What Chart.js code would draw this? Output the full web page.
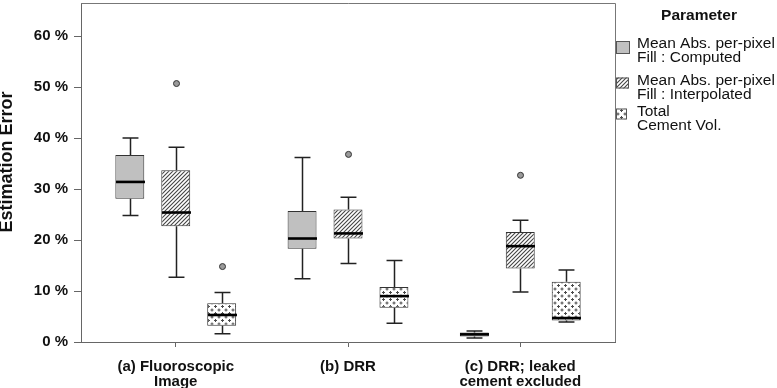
<!DOCTYPE html>
<html><head><meta charset="utf-8">
<script src="https://cdn.jsdelivr.net/npm/chart.js@4"></script>
<style>html,body{margin:0;padding:0;background:#fff;overflow:hidden}</style>
</head><body>
<canvas id="c" width="777" height="388"></canvas>
<script>
const categories = [["(a) Fluoroscopic", "Image"], ["(b) DRR"], ["(c) DRR; leaked", "cement excluded"]];
const seriesNames = [["Mean Abs. per-pixel", "Fill : Computed"], ["Mean Abs. per-pixel", "Fill : Interpolated"], ["Total", "Cement Vol."]];
const yTickValues = [0, 10, 20, 30, 40, 50, 60];
const legendTitle = "Parameter";
const yTitle = "Estimation Error";

const computedMin = [24.8, 12.4, 0.8];
const computedQ1 = [28.1, 18.3, 1.1];
const computedMedian = [31.4, 20.3, 1.5];
const computedQ3 = [36.7, 25.7, 1.85];
const computedMax = [40.0, 36.2, 2.15];
const computedOutliers = [[], [], []];

const interpMin = [12.7, 15.4, 9.8];
const interpQ1 = [22.7, 20.3, 14.4];
const interpMedian = [25.4, 21.3, 18.8];
const interpQ3 = [33.7, 26.0, 21.6];
const interpMax = [38.2, 28.4, 23.9];
const interpOutliers = [[50.7], [36.8], [32.7]];

const volMin = [1.6, 3.7, 3.9];
const volQ1 = [3.2, 6.7, 4.2];
const volMedian = [5.3, 9.0, 4.7];
const volQ3 = [7.6, 10.8, 11.8];
const volMax = [9.7, 16.0, 14.1];
const volOutliers = [[14.8], [], []];

const stats = [
  {min: computedMin, q1: computedQ1, med: computedMedian, q3: computedQ3, max: computedMax, out: computedOutliers},
  {min: interpMin, q1: interpQ1, med: interpMedian, q3: interpQ3, max: interpMax, out: interpOutliers},
  {min: volMin, q1: volQ1, med: volMedian, q3: volQ3, max: volMax, out: volOutliers}
];

// fill patterns
function hatchPattern() {
  const t = document.createElement('canvas'); t.width = 4; t.height = 4;
  const g = t.getContext('2d');
  g.fillStyle = '#fff'; g.fillRect(0, 0, 4, 4);
  g.strokeStyle = '#444'; g.lineWidth = 1.1;
  g.beginPath();
  g.moveTo(-1, 5); g.lineTo(5, -1);
  g.moveTo(-1, 1); g.lineTo(1, -1);
  g.moveTo(3, 5); g.lineTo(5, 3);
  g.stroke();
  return g.createPattern(t, 'repeat');
}
function plusPattern() {
  const t = document.createElement('canvas'); t.width = 7; t.height = 7;
  const g = t.getContext('2d');
  g.fillStyle = '#fff'; g.fillRect(0, 0, 7, 7);
  g.fillStyle = '#4a4a4a';
  [[2, 2], [5.5, 5.5]].forEach(([cx, cy]) => {
    g.fillRect(cx - 1.5, cy - 0.5, 3, 1);
    g.fillRect(cx - 0.5, cy - 1.5, 1, 3);
  });
  return g.createPattern(t, 'repeat');
}
const fills = ['#c0c0c0', hatchPattern(), plusPattern()];

const FONT = "'Liberation Sans', Arial, sans-serif";

const boxPlugin = {
  id: 'boxextras',
  afterDatasetsDraw(chart) {
    const ctx = chart.ctx, ys = chart.scales.y;
    ctx.save();
    chart.data.datasets.forEach((ds, di) => {
      const meta = chart.getDatasetMeta(di);
      const st = stats[di];
      meta.data.forEach((bar, i) => {
        const x = Math.round(bar.x) + 0.5, w = bar.width;
        const pMin = ys.getPixelForValue(st.min[i]);
        const pMax = ys.getPixelForValue(st.max[i]);
        const pQ1 = ys.getPixelForValue(st.q1[i]);
        const pQ3 = ys.getPixelForValue(st.q3[i]);
        const pMed = ys.getPixelForValue(st.med[i]);
        const cap = w * 0.55;
        ctx.strokeStyle = '#222'; ctx.lineWidth = 1.5;
        ctx.beginPath();
        ctx.moveTo(x, pQ3); ctx.lineTo(x, pMax);
        ctx.moveTo(x - cap / 2, pMax); ctx.lineTo(x + cap / 2, pMax);
        ctx.moveTo(x, pQ1); ctx.lineTo(x, pMin);
        ctx.moveTo(x - cap / 2, pMin); ctx.lineTo(x + cap / 2, pMin);
        ctx.stroke();
        ctx.strokeStyle = '#000'; ctx.lineWidth = 2.6;
        ctx.beginPath();
        ctx.moveTo(x - w / 2, pMed); ctx.lineTo(x + w / 2, pMed);
        ctx.stroke();
        st.out[i].forEach(v => {
          const py = ys.getPixelForValue(v);
          ctx.beginPath(); ctx.arc(x, py, 3, 0, Math.PI * 2);
          ctx.fillStyle = '#9a9a9a'; ctx.fill();
          ctx.strokeStyle = '#333'; ctx.lineWidth = 1; ctx.stroke();
        });
      });
    });
    ctx.restore();
  },
  afterDraw(chart) {
    const ctx = chart.ctx, a = chart.chartArea;
    ctx.save();
    // frame top and right
    ctx.strokeStyle = '#777'; ctx.lineWidth = 1;
    ctx.beginPath();
    ctx.moveTo(a.left, a.top + 0.5); ctx.lineTo(a.right + 0.5, a.top + 0.5); ctx.lineTo(a.right + 0.5, a.bottom);
    ctx.stroke();
    // y axis title
    ctx.save();
    ctx.translate(7.5, 162);
    ctx.rotate(-Math.PI / 2);
    ctx.fillStyle = '#111';
    ctx.textAlign = 'center'; ctx.textBaseline = 'middle';
    ctx.font = 'bold 18px ' + FONT;
    ctx.fillText(yTitle, 0, 0);
    ctx.restore();
    // legend
    ctx.fillStyle = '#111';
    ctx.textBaseline = 'middle';
    ctx.textAlign = 'center';
    ctx.font = 'bold 15.5px ' + FONT;
    ctx.fillText(legendTitle, 699, 16);
    ctx.textAlign = 'left';
    ctx.font = '15.5px ' + FONT;
    const rows = [44, 80.5, 112];
    const sw = [[616, 41, 14, 13], [616, 77.5, 13, 11], [616, 108.5, 11, 11]];
    seriesNames.forEach((lines, k) => {
      const s = sw[k];
      ctx.fillStyle = fills[k];
      ctx.fillRect(s[0], s[1], s[2], s[3]);
      ctx.strokeStyle = '#555'; ctx.lineWidth = 1;
      ctx.strokeRect(s[0] + 0.5, s[1] + 0.5, s[2] - 1, s[3] - 1);
      ctx.fillStyle = '#111';
      lines.forEach((t, j) => ctx.fillText(t, 637, rows[k] + j * 14));
    });
    ctx.restore();
  }
};

const datasets = stats.map((st, k) => ({
  label: seriesNames[k].join(' '),
  data: categories.map((c, i) => ({x: i, y: [st.q1[i], st.q3[i]]})),
  backgroundColor: fills[k],
  borderColor: '#333',
  borderWidth: 1,
  borderSkipped: false,
  categoryPercentage: 0.8,
  barPercentage: 0.63
}));

new Chart(document.getElementById('c'), {
  type: 'bar',
  data: {datasets},
  options: {
    responsive: false,
    animation: false,
    devicePixelRatio: 1,
    layout: {padding: {left: 0, right: 162, top: 3, bottom: 0}},
    plugins: {legend: {display: false}, tooltip: {enabled: false}},
    scales: {
      x: {
        type: 'linear', min: -0.55, max: 2.55, offset: false,
        afterBuildTicks(s) { s.ticks = categories.map((c, i) => ({value: i})); },
        afterFit(s) { s.height = 46; s.paddingLeft = 0; s.paddingRight = 0; },
        grid: {display: true, drawOnChartArea: false, offset: false, tickLength: 5, color: '#666'},
        border: {color: '#666', width: 1},
        ticks: {
          autoSkip: false, maxRotation: 0, padding: 13,
          color: '#111', font: {family: FONT, size: 15, weight: 'bold', lineHeight: 0.95},
          callback: (v) => categories[v]
        }
      },
      y: {
        min: 0, max: 66.5,
        afterBuildTicks(s) { s.ticks = yTickValues.map(v => ({value: v})); },
        afterFit(s) { s.width = 81; s.paddingTop = 0; s.paddingBottom = 0; },
        grid: {display: true, drawOnChartArea: false, tickLength: 7, color: '#666'},
        border: {color: '#666', width: 1},
        ticks: {padding: 6, color: '#111', font: {family: FONT, size: 15, weight: 'bold'}, callback: (v) => v + ' %'},
        title: {display: false, text: yTitle}
      }
    }
  },
  plugins: [boxPlugin]
});
</script>
</body></html>
